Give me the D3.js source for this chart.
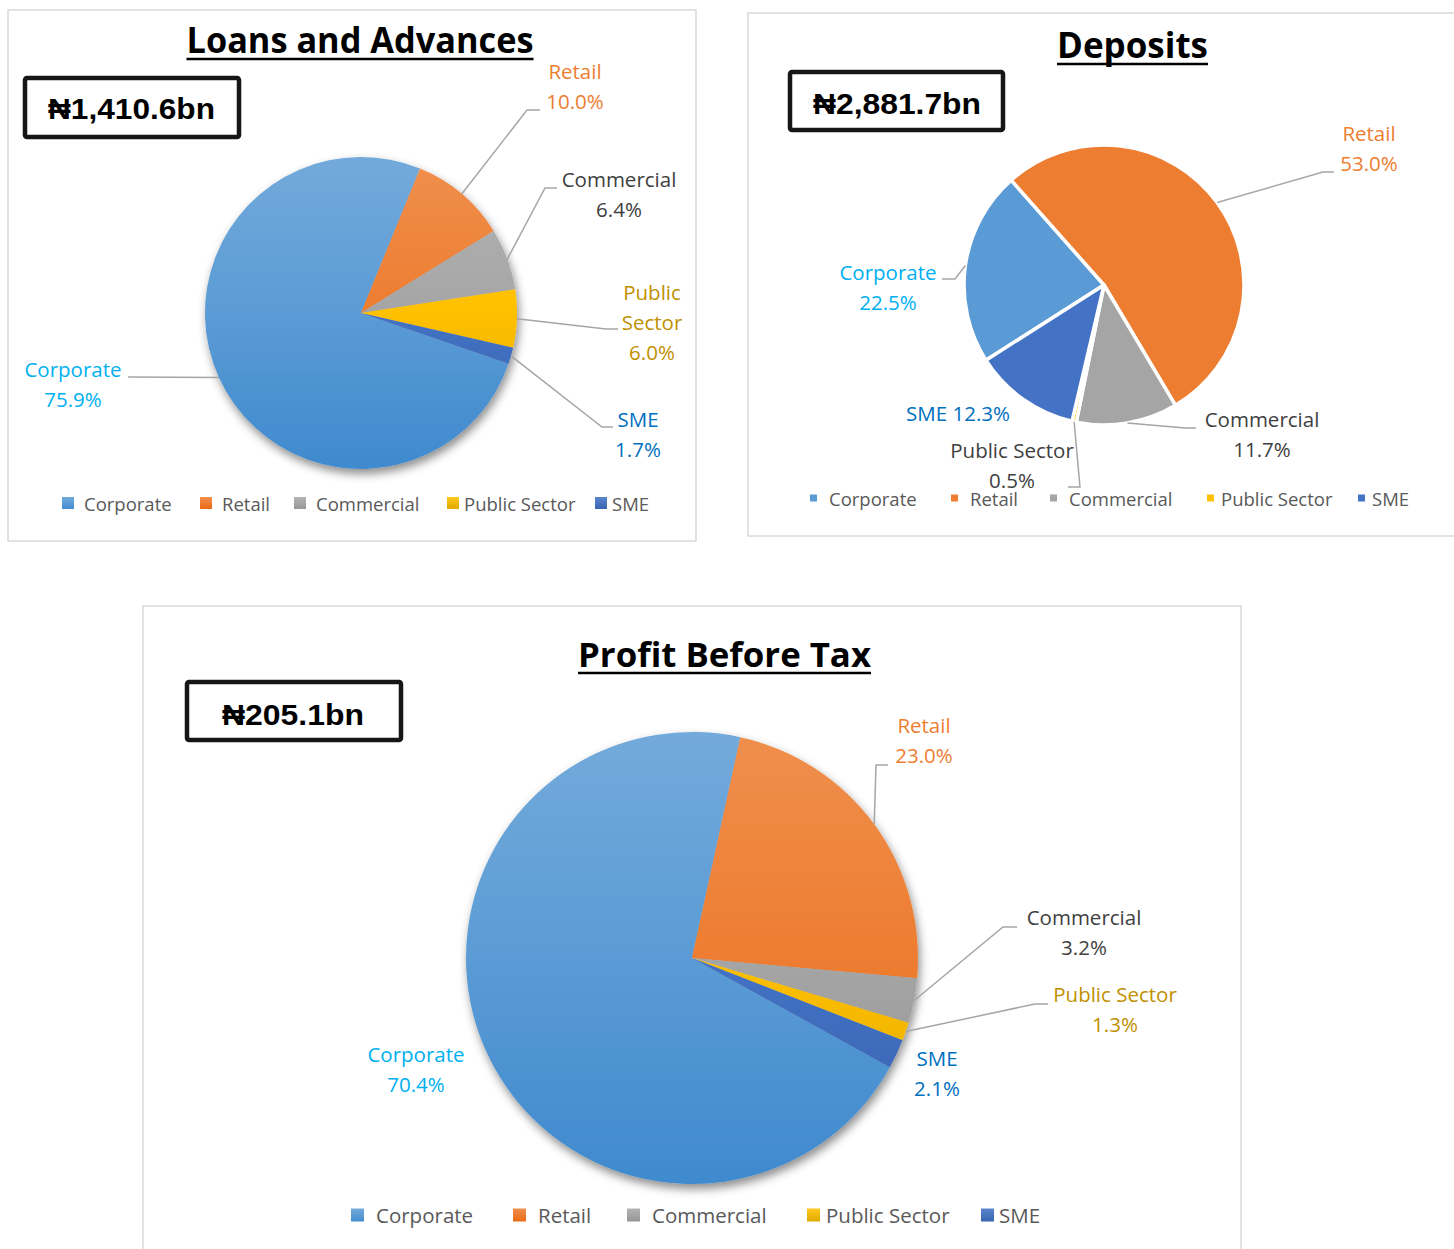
<!DOCTYPE html>
<html>
<head>
<meta charset="utf-8">
<script src="https://cdn.jsdelivr.net/npm/d3@7"></script>
<style>
  body { margin: 0; background: #fff; }
  svg { display: block; }
</style>
</head>
<body>
<div id="svg-container"></div>
<script>
const segments = ['Corporate', 'Retail', 'Commercial', 'Public Sector', 'SME']
const loansShare = [75.9, 10.0, 6.4, 6.0, 1.7]
const depositsShare = [22.5, 53.0, 11.7, 0.5, 12.3]
const profitShare = [70.4, 23.0, 3.2, 1.3, 2.1]
const chartTitles = ['Loans and Advances', 'Deposits', 'Profit Before Tax']
const chartTotals = ['₦1,410.6bn', '₦2,881.7bn', '₦205.1bn']

const sliceColors = ['#5B9BD5', '#ED7D31', '#A5A5A5', '#FFC000', '#4472C4']
const labelColors = ['#00B0F0', '#ED7D31', '#404040', '#BF9000', '#0070C0']

const fontFamily = '"Open Sans", "Noto Sans", sans-serif'

// layout of each panel (positions only, values come from the arrays above)
const panels = [
  {
    values: loansShare,
    panel: [8, 10, 688, 531],
    title: { cx: 360, y: 53, w: 347, under: 59, size: 35 },
    box: { x: 23, y: 76, w: 218, h: 63, cx: 131.5, ty: 119, tw: 167 },
    pie: { cx: 361, cy: 313, r: 156, start: 109, shaded: true, gap: 0 },
    labels: [
      { lines: ['Corporate', '75.9%'], x: 73, y: 377, leader: [[128, 377]] },
      { lines: ['Retail', '10.0%'], x: 575, y: 79, leader: [[527, 110], [540, 110]] },
      { lines: ['Commercial', '6.4%'], x: 619, y: 187, leader: [[545, 188], [557, 188]] },
      { lines: ['Public', 'Sector', '6.0%'], x: 652, y: 300, leader: [[606, 329], [618, 329]] },
      { lines: ['SME', '1.7%'], x: 638, y: 427, leader: [[602, 427], [613, 427]] },
    ],
    legend: { y: 503, sq: 12, sqX: [62, 200, 294, 447, 595], textX: [84, 222, 316, 464, 612], size: 18.5 },
  },
  {
    values: depositsShare,
    panel: [748, 13, 720, 523],
    title: { cx: 1132.5, y: 58, w: 151, under: 64, size: 35 },
    box: { x: 788, y: 70, w: 217, h: 62, cx: 897, ty: 114, tw: 168 },
    pie: { cx: 1104, cy: 285, r: 140, start: 237.5, shaded: false, gap: 3.5 },
    labels: [
      { lines: ['Corporate', '22.5%'], x: 888, y: 280, leader: [[955, 279], [942, 279]] },
      { lines: ['Retail', '53.0%'], x: 1369, y: 141, leader: [[1323, 172], [1334, 172]] },
      { lines: ['Commercial', '11.7%'], x: 1262, y: 427, leader: [[1185, 428], [1196, 428]] },
      { lines: ['Public Sector', '0.5%'], x: 1012, y: 458, leader: [[1080, 487], [1068, 487]], color: '#404040' },
      { lines: ['SME 12.3%'], x: 958, y: 421, leader: null },
    ],
    legend: { y: 498, sq: 7, sqX: [810, 951, 1050, 1207, 1358], textX: [829, 970, 1069, 1221, 1372], size: 18.5 },
  },
  {
    values: profitShare,
    panel: [143, 606, 1098, 680],
    title: { cx: 724.5, y: 667, w: 293, under: 673, size: 34 },
    box: { x: 185, y: 680, w: 218, h: 62, cx: 293, ty: 725, tw: 142 },
    pie: { cx: 692, cy: 958, r: 226, start: 118.9, shaded: true, gap: 0 },
    labels: [
      { lines: ['Corporate', '70.4%'], x: 416, y: 1062, leader: null },
      { lines: ['Retail', '23.0%'], x: 924, y: 733, leader: [[876, 765], [888, 765]] },
      { lines: ['Commercial', '3.2%'], x: 1084, y: 925, leader: [[1003, 927], [1017, 927]] },
      { lines: ['Public Sector', '1.3%'], x: 1115, y: 1002, leader: [[1035, 1004], [1048, 1004]] },
      { lines: ['SME', '2.1%'], x: 937, y: 1066, leader: null },
    ],
    legend: { y: 1215, sq: 13, sqX: [351, 513, 627, 807, 981], textX: [376, 538, 652, 826, 999], size: 20.5 },
  },
]

const svg = d3
  .select('#svg-container')
  .append('svg')
  .attr('width', 1454)
  .attr('height', 1249)
  .attr('viewBox', '0 0 1454 1249')

const defs = svg.append('defs')

const shadow = defs
  .append('filter')
  .attr('id', 'pie-shadow')
  .attr('x', '-20%')
  .attr('y', '-20%')
  .attr('width', '140%')
  .attr('height', '140%')
shadow
  .append('feDropShadow')
  .attr('dx', 2)
  .attr('dy', 5)
  .attr('stdDeviation', 5)
  .attr('flood-color', '#000')
  .attr('flood-opacity', 0.45)

const shade = (c, dl) => {
  const h = d3.hsl(c)
  h.l = Math.max(0, Math.min(1, h.l + dl))
  return h.formatHex()
}

// one vertical gradient per colour, in objectBoundingBox units (used by slices and legend squares)
sliceColors.forEach((c, i) => {
  const lg = defs
    .append('linearGradient')
    .attr('id', `grad-${i}`)
    .attr('x1', 0)
    .attr('x2', 0)
    .attr('y1', 0)
    .attr('y2', 1)
  lg.append('stop').attr('offset', 0).attr('stop-color', shade(c, 0.06))
  lg.append('stop').attr('offset', 1).attr('stop-color', shade(c, -0.06))
})

panels.forEach((p, pi) => {
  const g = svg.append('g').attr('class', `panel panel-${pi}`)
  const [px, py, pw, ph] = p.panel

  g.append('rect')
    .attr('x', px)
    .attr('y', py)
    .attr('width', pw)
    .attr('height', ph)
    .attr('fill', '#fff')
    .attr('stroke', '#d9d9d9')
    .attr('stroke-width', 1.5)

  // gradients for shaded pies (local coords of the pie group)
  if (p.pie.shaded) {
    sliceColors.forEach((c, i) => {
      const lg = defs
        .append('linearGradient')
        .attr('id', `grad-${pi}-${i}`)
        .attr('gradientUnits', 'userSpaceOnUse')
        .attr('x1', 0)
        .attr('x2', 0)
        .attr('y1', -p.pie.r)
        .attr('y2', p.pie.r)
      lg.append('stop').attr('offset', 0).attr('stop-color', shade(c, 0.06))
      lg.append('stop').attr('offset', 0.5).attr('stop-color', c)
      lg.append('stop').attr('offset', 1).attr('stop-color', shade(c, -0.07))
    })
  }

  // Title
  const t = p.title
  g.append('text')
    .attr('x', t.cx)
    .attr('y', t.y)
    .attr('text-anchor', 'middle')
    .attr('textLength', t.w)
    .attr('lengthAdjust', 'spacingAndGlyphs')
    .style('font-family', fontFamily)
    .style('font-weight', 700)
    .style('font-size', `${t.size}px`)
    .attr('fill', '#000')
    .text(chartTitles[pi])
  g.append('line')
    .attr('x1', t.cx - t.w / 2)
    .attr('x2', t.cx + t.w / 2)
    .attr('y1', t.under)
    .attr('y2', t.under)
    .attr('stroke', '#000')
    .attr('stroke-width', 2.5)

  // Total box
  const b = p.box
  g.append('rect')
    .attr('x', b.x + 2)
    .attr('y', b.y + 2)
    .attr('width', b.w - 4)
    .attr('height', b.h - 4)
    .attr('rx', 2)
    .attr('fill', '#fff')
    .attr('stroke', '#161616')
    .attr('stroke-width', 4.5)
  g.append('text')
    .attr('x', b.cx)
    .attr('y', b.ty)
    .attr('text-anchor', 'middle')
    .attr('textLength', b.tw)
    .attr('lengthAdjust', 'spacingAndGlyphs')
    .style('font-family', '"Liberation Sans", Arial, sans-serif')
    .style('font-weight', 700)
    .style('font-size', '30px')
    .attr('fill', '#000')
    .text(chartTotals[pi])

  // Pie
  const rad = Math.PI / 180
  const pie = d3
    .pie()
    .sort(null)
    .value(d => d.value)
    .startAngle(p.pie.start * rad)
    .endAngle(p.pie.start * rad + 2 * Math.PI)
  const arcs = pie(segments.map((s, i) => ({ name: s, value: p.values[i], i })))
  const arc = d3.arc().innerRadius(0).outerRadius(p.pie.r)
  const edgeArc = d3.arc().innerRadius(p.pie.r).outerRadius(p.pie.r)

  const pieG = g
    .append('g')
    .attr('transform', `translate(${p.pie.cx}, ${p.pie.cy})`)
  if (p.pie.shaded) pieG.attr('filter', 'url(#pie-shadow)')

  pieG
    .selectAll('path.slice')
    .data(arcs)
    .join('path')
    .attr('class', 'slice')
    .attr('d', arc)
    .attr('fill', d => (p.pie.shaded ? `url(#grad-${pi}-${d.data.i})` : sliceColors[d.data.i]))
    .attr('stroke', p.pie.gap ? '#fff' : 'none')
    .attr('stroke-width', p.pie.gap)
    .attr('stroke-linejoin', 'round')

  // Leader lines
  g.selectAll('path.leader')
    .data(arcs.filter(d => p.labels[d.data.i].leader))
    .join('path')
    .attr('class', 'leader')
    .attr('d', d => {
      const [ex, ey] = edgeArc.centroid(d)
      return d3.line()([[p.pie.cx + ex, p.pie.cy + ey], ...p.labels[d.data.i].leader])
    })
    .attr('fill', 'none')
    .attr('stroke', '#a6a6a6')
    .attr('stroke-width', 1.5)

  // Data labels
  arcs.forEach(d => {
    const lab = p.labels[d.data.i]
    const txt = g
      .append('text')
      .attr('text-anchor', 'middle')
      .style('font-family', fontFamily)
      .style('font-size', '20.5px')
      .attr('fill', lab.color || labelColors[d.data.i])
    lab.lines.forEach((line, li) => {
      txt.append('tspan').attr('x', lab.x).attr('y', lab.y + li * 30).text(line)
    })
  })

  // Legend
  const lgd = p.legend
  const legendItems = g
    .selectAll('g.legend-item')
    .data(segments)
    .join('g')
    .attr('class', 'legend-item')
  legendItems
    .append('rect')
    .attr('x', (d, i) => lgd.sqX[i])
    .attr('y', lgd.y - lgd.sq / 2)
    .attr('width', lgd.sq)
    .attr('height', lgd.sq)
    .attr('fill', (d, i) => (p.pie.shaded ? `url(#grad-${i})` : sliceColors[i]))
  legendItems
    .append('text')
    .attr('x', (d, i) => lgd.textX[i])
    .attr('y', lgd.y)
    .attr('dominant-baseline', 'central')
    .style('font-family', fontFamily)
    .style('font-size', `${lgd.size}px`)
    .attr('fill', '#595959')
    .text(d => d)
})
</script>
</body>
</html>
